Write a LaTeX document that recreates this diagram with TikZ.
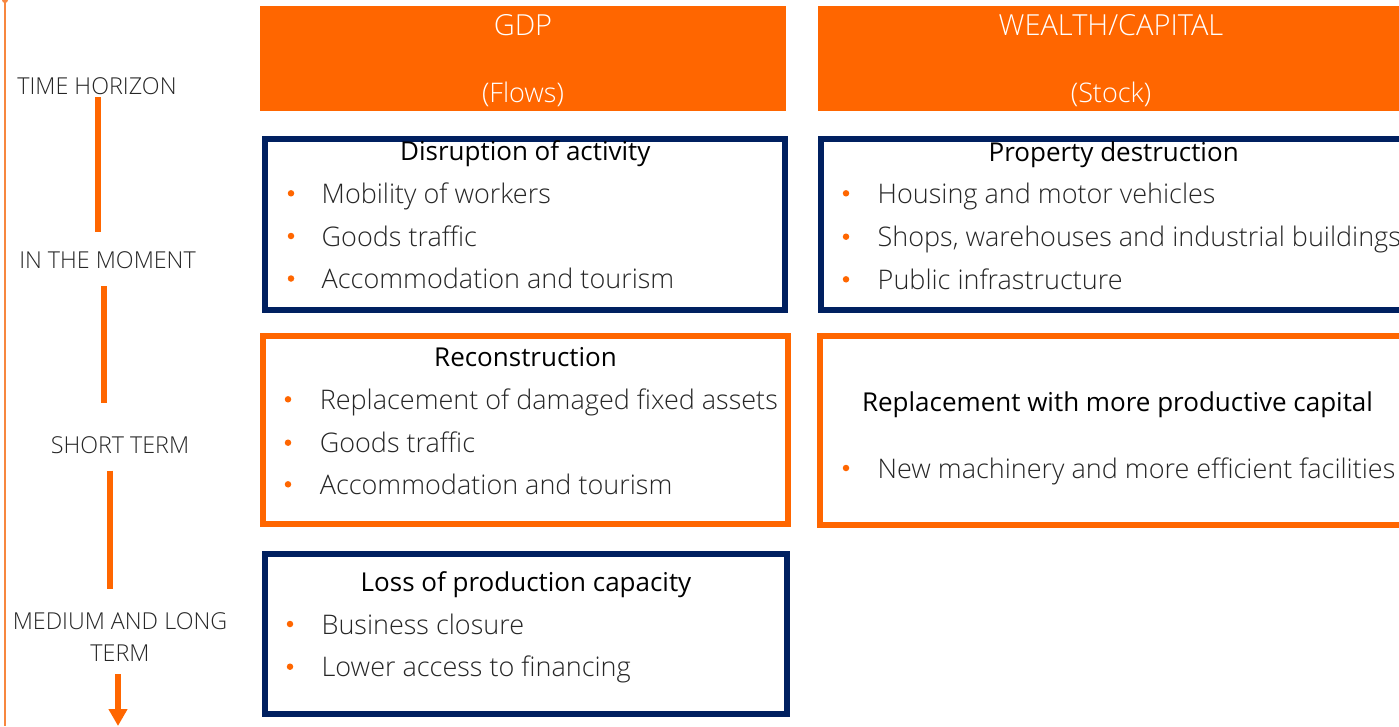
\documentclass[tikz,border=0pt]{standalone}
\usepackage{fontspec}
\setmainfont{Open Sans}
\IfFontExistsTF{Open Sans Light}{\newfontfamily\thinfont{Open Sans Light}}{\newfontfamily\thinfont{Open Sans}}
\usetikzlibrary{arrows.meta}
\definecolor{brandorange}{HTML}{FF6600}
\definecolor{axiscol}{HTML}{F7873F}
\definecolor{navy}{HTML}{002060}
\definecolor{ink}{HTML}{262626}
\begin{document}
\begin{tikzpicture}[x=1pt,y=-1pt,
  header/.style={fill=brandorange},
  navybox/.style={draw=navy, line width=6pt},
  orangebox/.style={draw=brandorange, line width=6pt},
  htitle/.style={anchor=base, text=white, font=\thinfont\fontsize{29}{32}\selectfont, inner sep=0pt},
  hsub/.style={anchor=base, text=white, font=\thinfont\fontsize{27}{30}\selectfont, inner sep=0pt},
  boxtitle/.style={anchor=base, text=black, font=\fontsize{26}{29}\selectfont, inner sep=0pt},
  item/.style={anchor=base west, text=ink, font=\thinfont\fontsize{27}{30}\selectfont, inner sep=0pt},
  dot/.style={circle, fill=brandorange, inner sep=0pt, minimum size=6.5pt},
  phase/.style={anchor=base, text=ink, font=\thinfont\fontsize{23.3}{27}\selectfont, inner sep=0pt},
  bar/.style={draw=brandorange, line width=5.8pt},
  axis/.style={draw=axiscol, line width=2pt}
]
\useasboundingbox (0,0) rectangle (1399,726);
\clip (0,0) rectangle (1399,726);
\fill[white] (0,0) rectangle (1399,726);

% thin time axis on the far left
\coordinate (axtop) at (5,0);
\coordinate (axbot) at (5,726);
\draw[axis] (axtop) -- (axbot);
\fill[axiscol] (axtop) circle (3);

% column headers
\fill[header] (260,6) rectangle (786,111);
\fill[header] (818,6) rectangle (1399,111);
\node[htitle] (gdp) at (523,35.3) {GDP};
\node[hsub] (flows) at (523,102.7) {(Flows)};
\node[htitle] (wealth) at (1111,35.3) {WEALTH/CAPITAL};
\node[hsub] (stock) at (1111,102.7) {(Stock)};

% time horizon labels
\node[phase] (ph1) at (97,94.3) {TIME HORIZON};
\node[phase] (ph2) at (107.5,268.3) {IN THE MOMENT};
\node[phase] (ph3) at (120,453.5) {SHORT TERM};
\node[phase] (ph4a) at (120,629.3) {MEDIUM AND LONG};
\node[phase] (ph4b) at (120,661.7) {TERM};

% orange segments between the labels
\coordinate (b1s) at (98.3,97.3);  \coordinate (b1e) at (98.3,231.7);
\coordinate (b2s) at (103.7,286);  \coordinate (b2e) at (103.7,403);
\coordinate (b3s) at (110.3,470.7); \coordinate (b3e) at (110.3,589.3);
\coordinate (a1s) at (118,674);    \coordinate (a1e) at (118,726);
\draw[bar] (b1s) -- (b1e);
\draw[bar] (b2s) -- (b2e);
\draw[bar] (b3s) -- (b3e);
\draw[bar, -{Triangle[width=18pt,length=17pt]}] (a1s) -- (a1e);

% ---- row 1: in the moment
\draw[navybox] (265,139) rectangle (785,310);
\node[boxtitle] (t1) at (525.3,160.7) {Disruption of activity};
\node[dot] (d11) at (291,193.3) {};
\node[dot] (d12) at (291,236) {};
\node[dot] (d13) at (291,278.5) {};
\node[item] (i11) at (321.5,203.3) {Mobility of workers};
\node[item] (i12) at (321.5,246) {Goods traffic};
\node[item] (i13) at (321.5,288.5) {Accommodation and tourism};

\draw[navybox] (820.5,139) rectangle (1410,310);
\node[boxtitle] (t2) at (1113.7,161.2) {Property destruction};
\node[dot] (d21) at (846,193.3) {};
\node[dot] (d22) at (846,236.7) {};
\node[dot] (d23) at (846,279.3) {};
\node[item] (i21) at (877.5,203.3) {Housing and motor vehicles};
\node[item] (i22) at (877.5,246.7) {Shops, warehouses and industrial buildings};
\node[item] (i23) at (877.5,289.3) {Public infrastructure};

% ---- row 2: short term
\draw[orangebox] (263,336) rectangle (788,524);
\node[boxtitle] (t3) at (525.5,366.7) {Reconstruction};
\node[dot] (d31) at (288,399.3) {};
\node[dot] (d32) at (288,442.7) {};
\node[dot] (d33) at (288,484.3) {};
\node[item] (i31) at (319.6,409.3) {Replacement of damaged fixed assets};
\node[item] (i32) at (319.6,452.7) {Goods traffic};
\node[item] (i33) at (319.6,494.3) {Accommodation and tourism};

\draw[orangebox] (820,336) rectangle (1410,525);
\node[boxtitle] (t4) at (1117.5,411.7) {Replacement with more productive capital};
\node[dot] (d41) at (846,468) {};
\node[item] (i41) at (877.5,478) {New machinery and more efficient facilities};

% ---- row 3: medium and long term
\draw[navybox] (265,554) rectangle (787,714);
\node[boxtitle] (t5) at (526,591.7) {Loss of production capacity};
\node[dot] (d51) at (290,624) {};
\node[dot] (d52) at (290,666.7) {};
\node[item] (i51) at (321.4,634) {Business closure};
\node[item] (i52) at (321.4,676.7) {Lower access to financing};
\end{tikzpicture}
\end{document}
